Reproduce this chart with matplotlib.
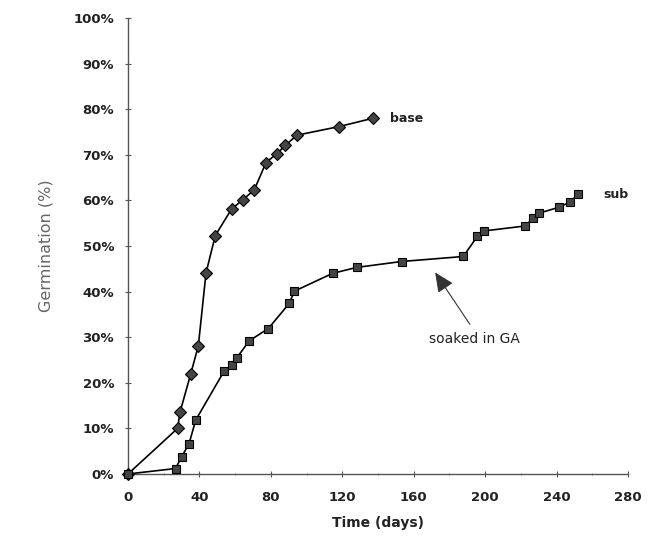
import matplotlib
matplotlib.use("Agg")
import matplotlib.pyplot as plt
from matplotlib.ticker import FuncFormatter, MultipleLocator

# base series (days, germination %)
base_days = [0, 27.8, 29.1, 35.1, 39.4, 43.7, 48.9, 58.0, 64.2, 70.7,
             77.3, 83.2, 88.2, 94.6, 118.3, 137.0]
base_germ = [0, 10.0, 13.5, 21.9, 28.1, 44.1, 52.3, 58.1, 60.1, 62.3,
             68.3, 70.2, 72.1, 74.3, 76.2, 78.0]

# sub series
sub_days = [0, 26.7, 30.0, 34.1, 37.9, 53.9, 58.0, 60.8, 67.9, 78.6,
            90.3, 93.2, 114.6, 128.0, 153.2, 187.8, 195.6, 199.3, 222.6,
            226.9, 230.1, 241.5, 247.8, 251.8]
sub_germ = [0, 1.2, 3.8, 6.5, 11.8, 22.6, 23.9, 25.4, 29.2, 31.9,
            37.4, 40.1, 44.0, 45.3, 46.6, 47.7, 52.1, 53.3, 54.4,
            56.1, 57.2, 58.5, 59.7, 61.3]

x_ticks = [0, 40, 80, 120, 160, 200, 240, 280]

plt.rcParams['font.family'] = ['DejaVu Sans']

fig = plt.figure(figsize=(6.48, 5.46), dpi=100)
ax = fig.add_axes([0.1975, 0.1319, 0.7716, 0.8351])

ax.plot(base_days, base_germ, color='black', lw=1.2, marker='D', ms=6,
        mfc='#444444', mec='black', mew=0.8, clip_on=False, zorder=3)
ax.plot(sub_days, sub_germ, color='black', lw=1.2, marker='s', ms=6,
        mfc='#444444', mec='black', mew=0.8, clip_on=False, zorder=3)

ax.set_xlim(0, 280)
ax.set_ylim(0, 100)
ax.set_xticks(x_ticks)
ax.xaxis.set_minor_locator(MultipleLocator(20))
ax.yaxis.set_major_locator(MultipleLocator(10))
ax.yaxis.set_major_formatter(FuncFormatter(lambda v, p: '%d%%' % v))

for s in ['top', 'right']:
    ax.spines[s].set_visible(False)
for s in ['left', 'bottom']:
    ax.spines[s].set_color('#555555')
    ax.spines[s].set_linewidth(1.0)

ax.tick_params(axis='both', which='major', direction='inout', length=4,
               width=0.8, color='#555555', labelsize=9.5)
ax.tick_params(axis='both', which='minor', direction='inout', length=2,
               width=0.6, color='#777777')
ax.tick_params(axis='x', pad=10)
ax.tick_params(axis='y', pad=8)
for lbl in ax.get_xticklabels() + ax.get_yticklabels():
    lbl.set_fontweight('bold')
    lbl.set_color('#222222')

ax.set_xlabel('Time (days)', fontsize=10, fontweight='bold', color='#222222',
              labelpad=9)
ax.set_ylabel('Germination (%)', fontsize=11.5, color='#666666', labelpad=14)

ax.text(147, 78, 'base', fontsize=9, fontweight='bold', va='center',
        ha='left', color='#222222')
ax.text(266, 61.3, 'sub', fontsize=9, fontweight='bold', va='center',
        ha='left', color='#222222')

ax.annotate('', xy=(172, 44.2), xytext=(191.5, 32.8),
            arrowprops=dict(arrowstyle='-|>,head_length=1.2,head_width=0.55',
                            color='#333333', lw=0.8, shrinkA=0, shrinkB=0))
ax.text(194, 29.5, 'soaked in GA', fontsize=10, ha='center', va='center',
        color='#222222')

fig.savefig('out.png', dpi=100)
